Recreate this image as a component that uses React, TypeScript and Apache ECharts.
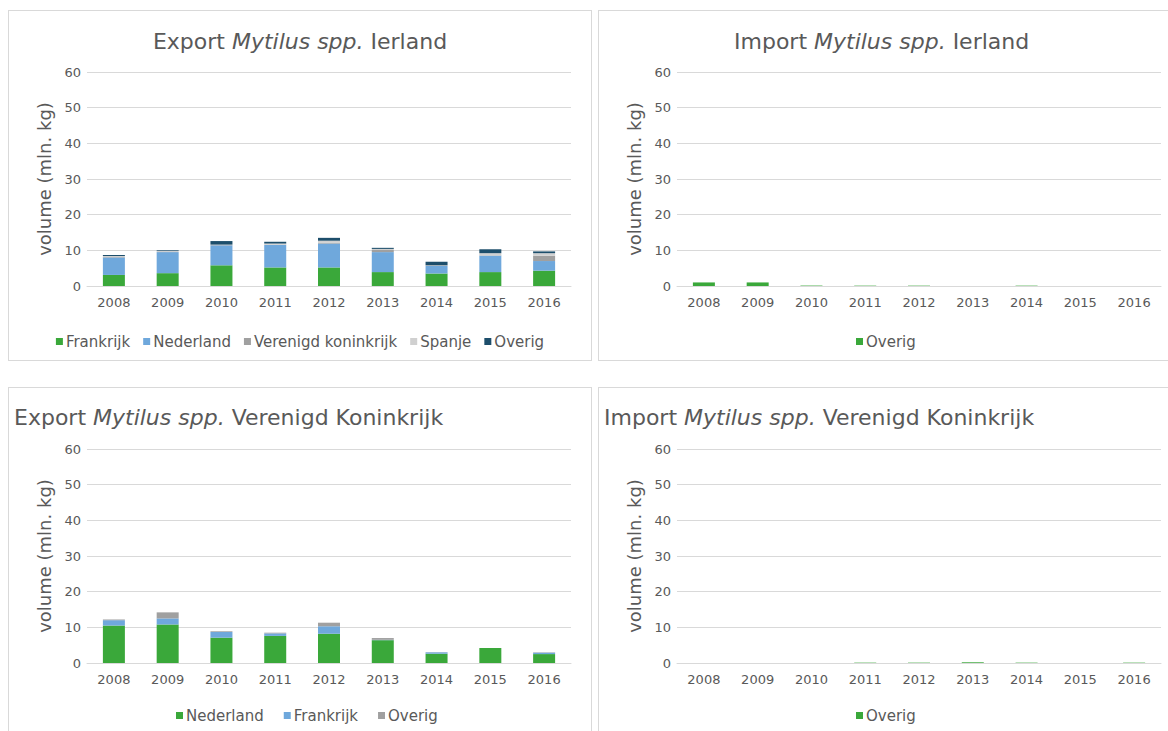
import React, { useEffect, useRef } from "react";
import * as echarts from "echarts";

const years = ["2008", "2009", "2010", "2011", "2012", "2013", "2014", "2015", "2016"];

const exportIE_Frankrijk = [3.1, 3.6, 5.8, 5.2, 5.2, 3.9, 3.5, 3.9, 4.3];
const exportIE_Nederland = [4.9, 5.9, 5.6, 6.3, 6.7, 5.6, 2.1, 4.6, 2.7];
const exportIE_VK = [0.2, 0.1, 0.1, 0.1, 0.2, 0.6, 0.1, 0.1, 1.5];
const exportIE_Spanje = [0.2, 0.2, 0.1, 0.3, 0.6, 0.3, 0.1, 0.6, 0.7];
const exportIE_Overig = [0.3, 0.2, 1.0, 0.5, 0.8, 0.3, 1.0, 1.1, 0.5];

const importIE_Overig = [1.0, 1.0, 0.12, 0.1, 0.1, 0, 0.1, 0, 0];

const exportUK_Nederland = [10.5, 10.8, 7.1, 7.6, 8.2, 6.4, 2.6, 4.2, 2.5];
const exportUK_Frankrijk = [1.5, 1.7, 1.6, 0.7, 2.1, 0.1, 0.4, 0, 0.4];
const exportUK_Overig = [0.2, 1.7, 0.2, 0.2, 1.0, 0.5, 0.05, 0, 0.1];

const importUK_Overig = [0, 0, 0, 0.1, 0.1, 0.2, 0.1, 0, 0.1];

const yTicks = { min: 0, max: 60, interval: 10 };

const C_GREEN = "#3aa83a";
const C_BLUE = "#6fa8dc";
const C_GRAY = "#a0a0a0";
const C_LIGHT = "#d0d0d0";
const C_NAVY = "#1d4e6b";

const TXT = "#595959";
const FONT = "DejaVu Sans";

type SeriesDef = { name: string; data: number[]; color: string };

type PanelProps = {
  left: number;
  top: number;
  width: number;
  height: number;
  titlePre: string;
  titlePost: string;
  titleLeft: number | string;
  titleTop: number;
  titleSize: number;
  legendLeft: number | string;
  legendTop: number;
  legendGap: number;
  series: SeriesDef[];
};

function Panel(p: PanelProps) {
  const ref = useRef<HTMLDivElement>(null);
  useEffect(() => {
    if (!ref.current) return;
    const chart = echarts.init(ref.current, undefined, { renderer: "svg" });
    chart.setOption({
      animation: false,
      textStyle: { fontFamily: FONT },
      title: {
        text: p.titlePre + " {i|Mytilus spp.} " + p.titlePost,
        left: p.titleLeft,
        top: p.titleTop,
        textStyle: {
          fontFamily: FONT,
          fontSize: p.titleSize,
          fontWeight: "normal",
          color: TXT,
          rich: {
            i: { fontStyle: "italic", fontSize: p.titleSize, color: TXT, fontFamily: FONT },
          },
        },
      },
      legend: {
        left: p.legendLeft,
        top: p.legendTop,
        icon: "rect",
        itemWidth: 7,
        itemHeight: 7,
        itemGap: p.legendGap,
        textStyle: { fontFamily: FONT, fontSize: 15, color: TXT, padding: [0, 0, 0, -2] },
        data: p.series.map((s) => s.name),
      },
      grid: { left: 78, top: 61, width: 484, height: 214 },
      xAxis: {
        type: "category",
        data: years,
        axisLine: { lineStyle: { color: "#d9d9d9" } },
        axisTick: { show: false },
        axisLabel: { color: TXT, fontSize: 13, fontFamily: FONT, margin: 10 },
      },
      yAxis: {
        type: "value",
        min: yTicks.min,
        max: yTicks.max,
        interval: yTicks.interval,
        name: "volume (mln. kg)",
        nameLocation: "middle",
        nameGap: 31,
        nameTextStyle: { color: TXT, fontSize: 18, fontFamily: FONT },
        axisLine: { show: false },
        axisTick: { show: false },
        splitLine: { lineStyle: { color: "#d9d9d9" } },
        axisLabel: { color: TXT, fontSize: 13, fontFamily: FONT, margin: 6 },
      },
      series: p.series.map((s) => ({
        type: "bar",
        name: s.name,
        stack: "total",
        barWidth: 22,
        data: s.data,
        itemStyle: { color: s.color },
      })),
    });
    return () => chart.dispose();
  }, []);
  return (
    <div
      style={{
        position: "absolute",
        left: p.left,
        top: p.top,
        width: p.width,
        height: p.height,
        border: "1px solid #d9d9d9",
        boxSizing: "border-box",
        background: "#fff",
      }}
    >
      <div ref={ref} style={{ width: p.width - 2, height: p.height - 2 }} />
    </div>
  );
}

export default function App() {
  return (
    <div style={{ position: "absolute", left: 0, top: 0, width: 1168, height: 731, overflow: "hidden", background: "#fff" }}>
      <Panel
        left={8}
        top={10}
        width={584}
        height={351}
        titlePre="Export"
        titlePost="Ierland"
        titleLeft="center"
        titleTop={14}
        titleSize={22}
        legendLeft="center"
        legendTop={318}
        legendGap={13}
        series={[
          { name: "Frankrijk", data: exportIE_Frankrijk, color: C_GREEN },
          { name: "Nederland", data: exportIE_Nederland, color: C_BLUE },
          { name: "Verenigd koninkrijk", data: exportIE_VK, color: C_GRAY },
          { name: "Spanje", data: exportIE_Spanje, color: C_LIGHT },
          { name: "Overig", data: exportIE_Overig, color: C_NAVY },
        ]}
      />
      <Panel
        left={598}
        top={10}
        width={580}
        height={351}
        titlePre="Import"
        titlePost="Ierland"
        titleLeft={130}
        titleTop={14}
        titleSize={22}
        legendLeft={252}
        legendTop={318}
        legendGap={13}
        series={[{ name: "Overig", data: importIE_Overig, color: C_GREEN }]}
      />
      <Panel
        left={8}
        top={387}
        width={584}
        height={360}
        titlePre="Export"
        titlePost="Verenigd Koninkrijk"
        titleLeft={0}
        titleTop={13}
        titleSize={22}
        legendLeft={162}
        legendTop={315}
        legendGap={20}
        series={[
          { name: "Nederland", data: exportUK_Nederland, color: C_GREEN },
          { name: "Frankrijk", data: exportUK_Frankrijk, color: C_BLUE },
          { name: "Overig", data: exportUK_Overig, color: C_GRAY },
        ]}
      />
      <Panel
        left={598}
        top={387}
        width={580}
        height={360}
        titlePre="Import"
        titlePost="Verenigd Koninkrijk"
        titleLeft={0}
        titleTop={13}
        titleSize={22}
        legendLeft={252}
        legendTop={315}
        legendGap={13}
        series={[{ name: "Overig", data: importUK_Overig, color: C_GREEN }]}
      />
    </div>
  );
}
